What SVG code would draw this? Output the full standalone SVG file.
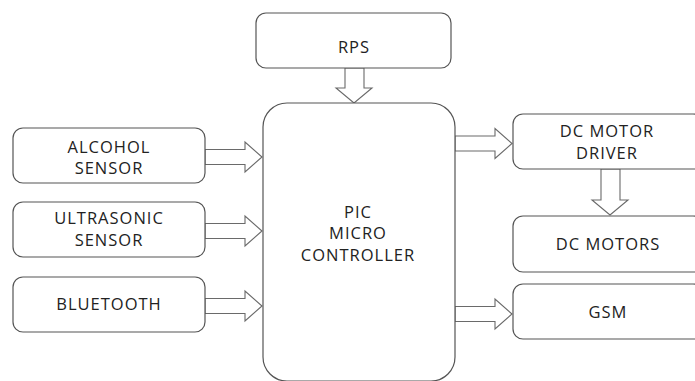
<svg xmlns="http://www.w3.org/2000/svg" width="695" height="381" viewBox="0 0 695 381">
<style>
.box{fill:#fff;stroke:#555;stroke-width:1.2}
.arr{fill:#fff;stroke:#6a6a6a;stroke-width:1.1;stroke-linejoin:miter}
text{font-family:"Open Sans","DejaVu Sans",sans-serif;font-size:16.5px;fill:#222;text-anchor:middle;letter-spacing:1px}
</style>
<rect width="695" height="381" fill="#fff"/>
<g id="connectors">
<polygon class="arr" points="345,68 364,68 364,88 372,88 354,103 336,88 345,88"/>
<polygon class="arr" points="205,149.5 245,149.5 245,142 262,157 245,172 245,164.5 205,164.5"/>
<polygon class="arr" points="205,223.5 245,223.5 245,216 262,231 245,246 245,238.5 205,238.5"/>
<polygon class="arr" points="205,298.5 245,298.5 245,291 262,306 245,321 245,313.5 205,313.5"/>
<polygon class="arr" points="455,136 495,136 495,128.5 512,143.5 495,158.5 495,151 455,151"/>
<polygon class="arr" points="455,306.5 495,306.5 495,299 512,314 495,329 495,321.5 455,321.5"/>
<polygon class="arr" points="601,169 620,169 620,200 628,200 610,215 592,200 601,200"/>
</g>
<g id="rps"><rect class="box" x="256" y="13" width="195" height="55" rx="10"/><text x="354" y="53">RPS</text></g>
<g id="pic"><rect class="box" x="263" y="103" width="192" height="278" rx="24"/><text x="358" y="218">PIC</text><text x="358" y="239">MICRO</text><text x="358" y="261">CONTROLLER</text></g>
<g id="alcohol"><rect class="box" x="13" y="128" width="192" height="55" rx="10"/><text x="109" y="153">ALCOHOL</text><text x="109" y="174">SENSOR</text></g>
<g id="ultrasonic"><rect class="box" x="13" y="202" width="192" height="55" rx="10"/><text x="109" y="224">ULTRASONIC</text><text x="109" y="246">SENSOR</text></g>
<g id="bluetooth"><rect class="box" x="13" y="277" width="192" height="55" rx="10"/><text x="109" y="310">BLUETOOTH</text></g>
<g id="driver"><rect class="box" x="513" y="114" width="190" height="55" rx="10"/><text x="607" y="137">DC MOTOR</text><text x="607" y="159">DRIVER</text></g>
<g id="motors"><rect class="box" x="513" y="216" width="190" height="56" rx="10"/><text x="608" y="250">DC MOTORS</text></g>
<g id="gsm"><rect class="box" x="513" y="284" width="190" height="55" rx="10"/><text x="608" y="318">GSM</text></g>
</svg>
